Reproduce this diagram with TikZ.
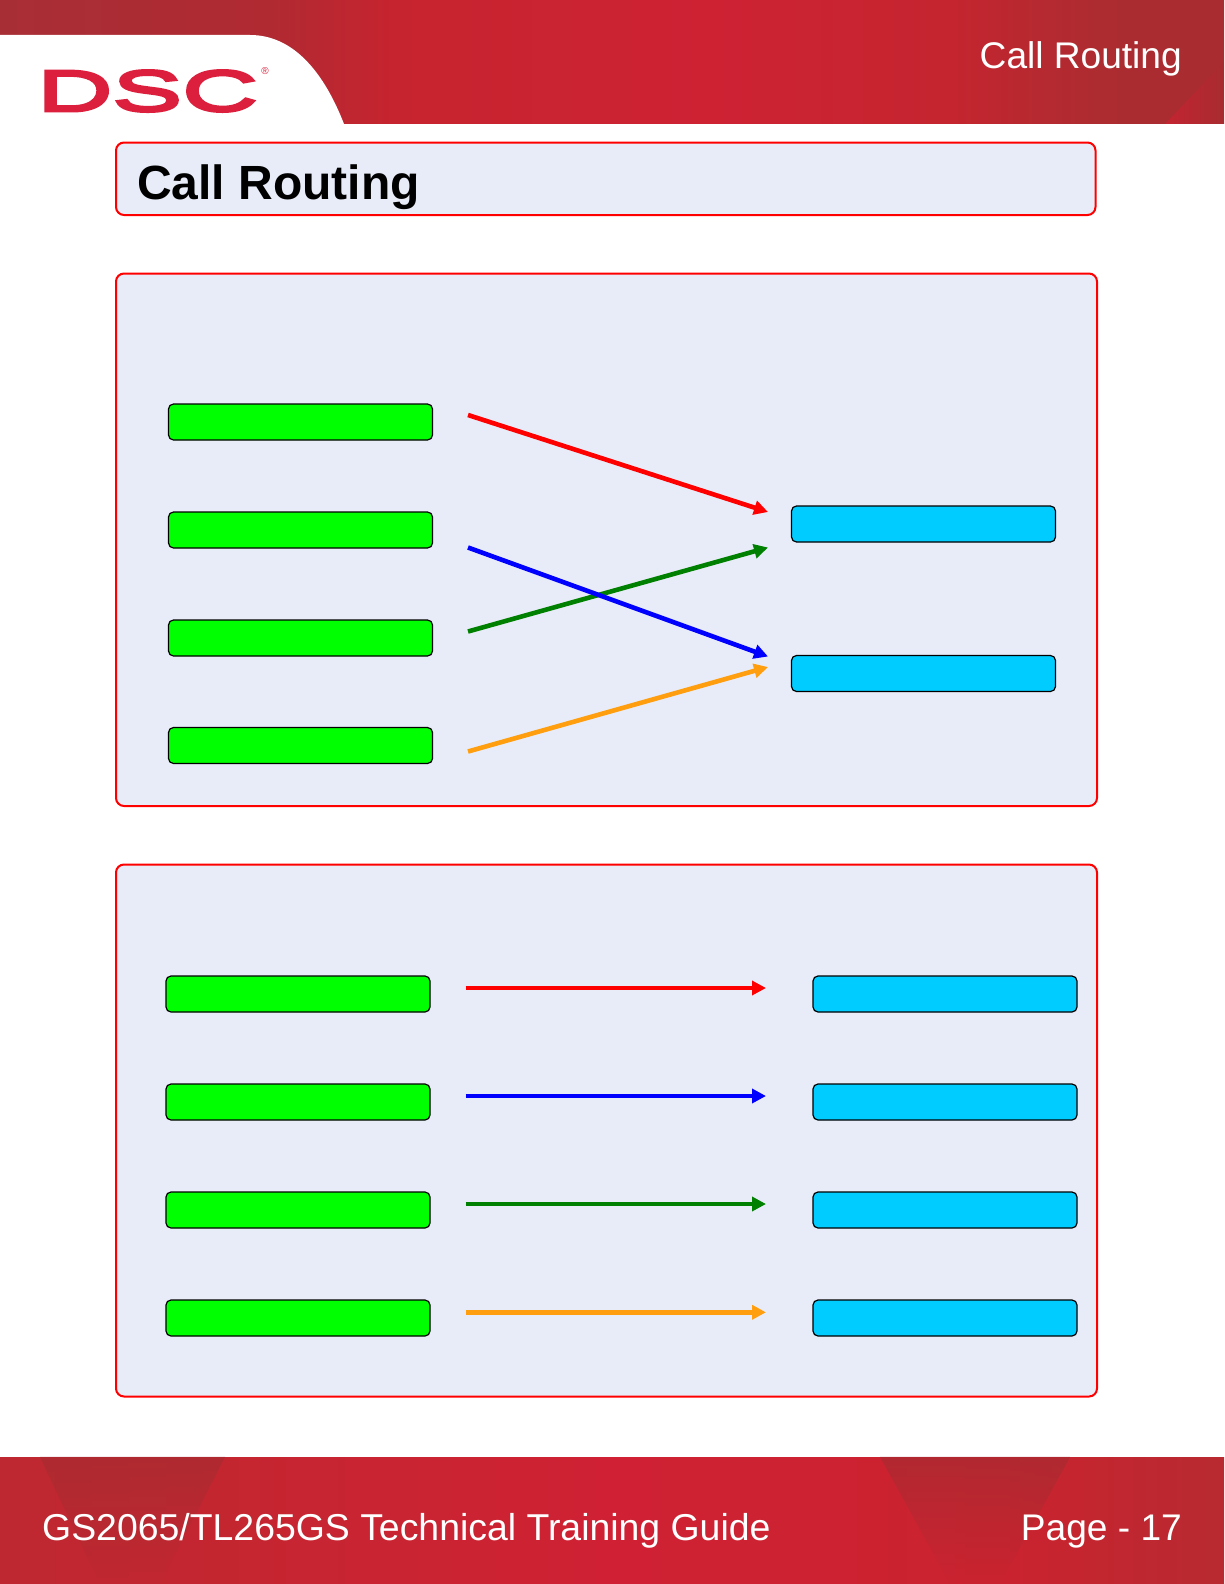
\documentclass[tikz,border=0pt]{standalone}
\usepackage{fontspec}
\setmainfont{Liberation Sans}
\newfontfamily\logofont[FakeStretch=1.8,FakeBold=5]{Liberation Sans}
\usetikzlibrary{arrows.meta,fadings}
\definecolor{panelfill}{HTML}{E8ECF8}
\definecolor{arrowgreen}{HTML}{008000}
\definecolor{arroworange}{HTML}{FF9E0F}
\definecolor{boxblue}{HTML}{00CCFF}
\definecolor{logored}{HTML}{DB1F3C}
\definecolor{banddark}{HTML}{A52C31}
\definecolor{bandred}{HTML}{CC2231}
\pgfdeclarehorizontalshading{hdrshade}{100bp}{
 color(0bp)=(rgb,255:red,168;green,46;blue,54);
 color(25bp)=(rgb,255:red,168;green,46;blue,54);
 color(36bp)=(rgb,255:red,176;green,42;blue,50);
 color(41bp)=(rgb,255:red,198;green,36;blue,47);
 color(54bp)=(rgb,255:red,206;green,34;blue,51);
 color(64bp)=(rgb,255:red,196;green,37;blue,47);
 color(70bp)=(rgb,255:red,172;green,44;blue,48);
 color(75bp)=(rgb,255:red,168;green,44;blue,48);
 color(100bp)=(rgb,255:red,168;green,44;blue,48)}
\pgfdeclarehorizontalshading{ftrshade}{100bp}{
 color(0bp)=(rgb,255:red,196;green,38;blue,48);
 color(25bp)=(rgb,255:red,190;green,40;blue,48);
 color(34bp)=(rgb,255:red,196;green,38;blue,48);
 color(50bp)=(rgb,255:red,207;green,33;blue,51);
 color(66bp)=(rgb,255:red,202;green,35;blue,47);
 color(75bp)=(rgb,255:red,184;green,42;blue,48);
 color(100bp)=(rgb,255:red,184;green,42;blue,48)}
\tikzset{
 x=1pt,y=-1pt,
 panel/.style={draw=red,fill=panelfill,line width=2pt,rounded corners=8pt},
 srcbox/.style={draw=black,fill=green,line width=1.2pt,rounded corners=5pt,minimum width=264pt,minimum height=36pt,inner sep=0pt,outer sep=0pt},
 dstbox/.style={srcbox,fill=boxblue},
 link/.style={line width=4.6pt,-{Triangle[length=14pt,width=14pt]}},
 hdrtext/.style={text=white,inner sep=0pt,font=\fontsize{37.1}{37}\selectfont}
}
\begin{document}
\begin{tikzpicture}
\useasboundingbox (0,0) rectangle (1224,1584);
\fill[white] (0,0) rectangle (1224,1584);
% header and footer bands
\shade[shading=hdrshade] (0,0) rectangle (1224,124);
\fill[bandred,opacity=.75,path fading=east] (1165,124) -- (1224,62) -- (1224,124) -- cycle;
\shade[shading=ftrshade] (0,1457) rectangle (1224,1584);
\fill[banddark,opacity=.65,path fading=south] (40,1457) -- (225,1457) -- (160,1584) -- (100,1584) -- cycle;
\fill[banddark,opacity=.65,path fading=south] (880,1457) -- (1070,1457) -- (1000,1584) -- (950,1584) -- cycle;
\fill[white] (0,35) -- (250,35) .. controls (295,35) and (325,75) .. (344,124) -- (0,124) -- cycle;
% logo
\node[inner sep=0pt,text=logored,anchor=base west] (logo) at (37,111)
 {\logofont\fontsize{58}{58}\selectfont DSC};
\node[inner sep=0pt,text=logored,font=\fontsize{10}{10}\selectfont] (regmark) at (265,71) {®};
\node[hdrtext,anchor=base east] (hdrlabel) at (1182,69) {Call Routing};
\node[hdrtext,anchor=base west,font=\fontsize{37.4}{37}\selectfont] (ftrleft) at (42,1540) {GS2065/TL265GS Technical Training Guide};
\node[hdrtext,anchor=base east] (ftrright) at (1182,1540) {Page - 17};
% panels
\path[panel] (116,142.5) rectangle (1095.5,215);
\node[anchor=base west,inner sep=0pt,font=\bfseries\fontsize{48}{48}\selectfont] (title) at (137,199) {Call Routing};
\path[panel] (116,273.5) rectangle (1097,806);
\path[panel] (116,864.5) rectangle (1097,1396.5);
% upper panel
\node[srcbox] (a1) at (300.5,422) {};
\node[srcbox] (a2) at (300.5,530) {};
\node[srcbox] (a3) at (300.5,638) {};
\node[srcbox] (a4) at (300.5,745.5) {};
\node[dstbox] (b1) at (923.5,524) {};
\node[dstbox] (b2) at (923.5,673.5) {};
\coordinate (as1) at (468,415);
\coordinate (as2) at (468,547.5);
\coordinate (as3) at (468,631.5);
\coordinate (as4) at (468,751.5);
\coordinate (ae1) at (768,512);
\coordinate (ae2) at (768,656.5);
\coordinate (ae3) at (768,547.5);
\coordinate (ae4) at (768,667);
\draw[link,draw=red,fill=red] (as1) -- (ae1);
\draw[link,draw=arrowgreen,fill=arrowgreen] (as3) -- (ae3);
\draw[link,draw=blue,fill=blue] (as2) -- (ae2);
\draw[link,draw=arroworange,fill=arroworange] (as4) -- (ae4);
% lower panel
\node[srcbox] (c1) at (298,994) {};
\node[srcbox] (c2) at (298,1102) {};
\node[srcbox] (c3) at (298,1210) {};
\node[srcbox] (c4) at (298,1318) {};
\node[dstbox] (d1) at (945,994) {};
\node[dstbox] (d2) at (945,1102) {};
\node[dstbox] (d3) at (945,1210) {};
\node[dstbox] (d4) at (945,1318) {};
\coordinate (cs1) at (465.5,988);
\coordinate (cs2) at (465.5,1096);
\coordinate (cs3) at (465.5,1204);
\coordinate (cs4) at (465.5,1312.3);
\coordinate (ce1) at (766,988);
\coordinate (ce2) at (766,1096);
\coordinate (ce3) at (766,1204);
\coordinate (ce4) at (766,1312.3);
\draw[link,draw=red,fill=red] (cs1) -- (ce1);
\draw[link,draw=blue,fill=blue] (cs2) -- (ce2);
\draw[link,draw=arrowgreen,fill=arrowgreen] (cs3) -- (ce3);
\draw[link,draw=arroworange,fill=arroworange] (cs4) -- (ce4);
\end{tikzpicture}
\end{document}
